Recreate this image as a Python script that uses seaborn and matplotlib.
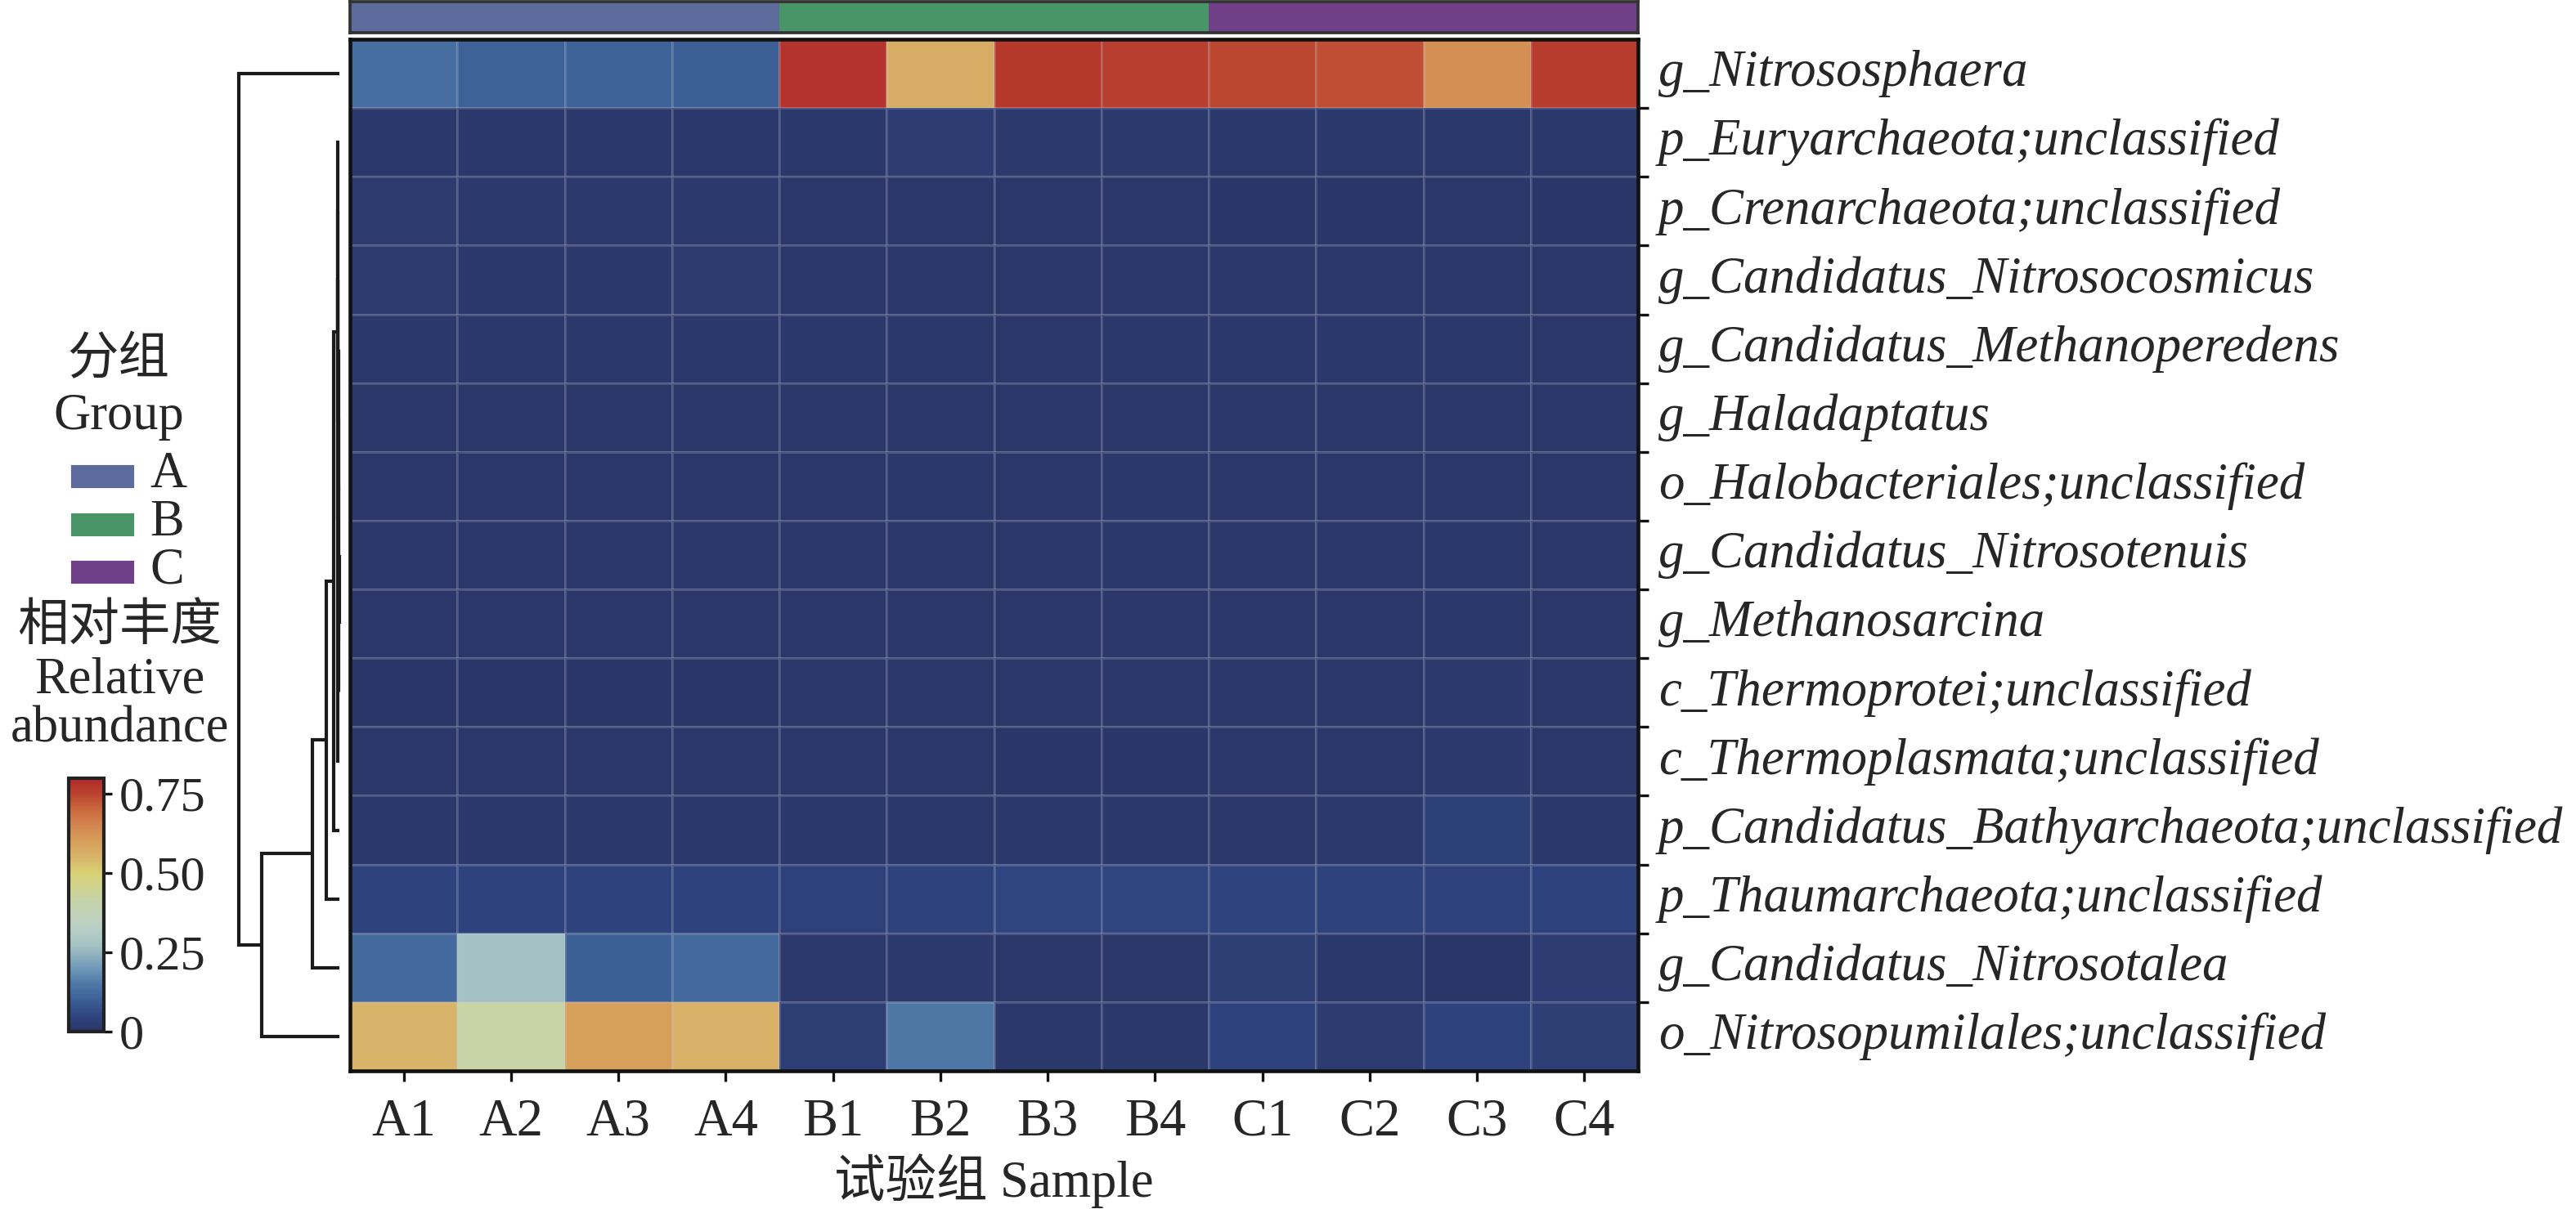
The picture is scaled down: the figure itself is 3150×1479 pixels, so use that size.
import numpy as np
import pandas as pd
import matplotlib
matplotlib.use("Agg")
import matplotlib.pyplot as plt
import seaborn as sns
from matplotlib.colors import LinearSegmentedColormap, ListedColormap
from matplotlib.patches import Rectangle

sns.set_theme(style="white")
FONT = ["Liberation Serif", "Noto Sans CJK SC", "DejaVu Sans"]
plt.rcParams["font.family"] = FONT

# ---------------- data ----------------
samples = ["A1", "A2", "A3", "A4", "B1", "B2", "B3", "B4", "C1", "C2", "C3", "C4"]
groups = ["A", "A", "A", "A", "B", "B", "B", "B", "C", "C", "C", "C"]
group_names = ["A", "B", "C"]
group_colors = ["#5d6b9d", "#4a9567", "#6f4088"]

taxa = [
    "g_Nitrososphaera",
    "p_Euryarchaeota;unclassified",
    "p_Crenarchaeota;unclassified",
    "g_Candidatus_Nitrosocosmicus",
    "g_Candidatus_Methanoperedens",
    "g_Haladaptatus",
    "o_Halobacteriales;unclassified",
    "g_Candidatus_Nitrosotenuis",
    "g_Methanosarcina",
    "c_Thermoprotei;unclassified",
    "c_Thermoplasmata;unclassified",
    "p_Candidatus_Bathyarchaeota;unclassified",
    "p_Thaumarchaeota;unclassified",
    "g_Candidatus_Nitrosotalea",
    "o_Nitrosopumilales;unclassified",
]

abund = [
    [0.130, 0.105, 0.105, 0.100, 0.780, 0.570, 0.770, 0.760, 0.745, 0.735, 0.630, 0.765],
    [0.012, 0.012, 0.012, 0.012, 0.012, 0.025, 0.015, 0.015, 0.012, 0.012, 0.012, 0.012],
    [0.016, 0.015, 0.015, 0.015, 0.008, 0.008, 0.008, 0.008, 0.006, 0.006, 0.008, 0.006],
    [0.018, 0.010, 0.010, 0.016, 0.008, 0.008, 0.008, 0.008, 0.008, 0.008, 0.008, 0.008],
    [0.010, 0.010, 0.010, 0.010, 0.010, 0.012, 0.008, 0.010, 0.010, 0.010, 0.012, 0.008],
    [0.008, 0.008, 0.008, 0.008, 0.008, 0.008, 0.008, 0.008, 0.008, 0.008, 0.008, 0.008],
    [0.008, 0.008, 0.008, 0.008, 0.008, 0.012, 0.008, 0.012, 0.008, 0.008, 0.008, 0.008],
    [0.008, 0.008, 0.008, 0.008, 0.008, 0.008, 0.008, 0.010, 0.008, 0.008, 0.012, 0.008],
    [0.008, 0.008, 0.008, 0.008, 0.008, 0.008, 0.008, 0.008, 0.008, 0.008, 0.012, 0.008],
    [0.006, 0.006, 0.006, 0.006, 0.008, 0.008, 0.008, 0.008, 0.008, 0.008, 0.014, 0.008],
    [0.008, 0.008, 0.008, 0.008, 0.008, 0.008, 0.005, 0.005, 0.008, 0.008, 0.014, 0.008],
    [0.010, 0.010, 0.010, 0.010, 0.010, 0.012, 0.010, 0.010, 0.008, 0.015, 0.035, 0.010],
    [0.045, 0.045, 0.045, 0.045, 0.040, 0.042, 0.050, 0.050, 0.048, 0.045, 0.040, 0.045],
    [0.120, 0.270, 0.100, 0.120, 0.015, 0.015, 0.008, 0.008, 0.030, 0.010, 0.005, 0.025],
    [0.550, 0.420, 0.600, 0.560, 0.030, 0.150, 0.012, 0.012, 0.045, 0.020, 0.045, 0.030],
]

# row dendrogram linkage: (child_a, child_b, height); leaves 0..14, clusters from 15
linkage = [
    (7, 8, 0.004),
    (15, 9, 0.006),
    (6, 16, 0.008),
    (5, 17, 0.010),
    (4, 18, 0.012),
    (3, 19, 0.013),
    (2, 20, 0.014),
    (21, 10, 0.016),
    (1, 22, 0.020),
    (23, 11, 0.057),
    (24, 12, 0.130),
    (25, 13, 0.270),
    (26, 14, 0.770),
    (0, 27, 1.000),
]

cbar_ticks = [0, 0.25, 0.5, 0.75]
cbar_ticklabels = ["0", "0.25", "0.50", "0.75"]

# ---------------- figure ----------------
W, H = 3150, 1479
DPI = 300
fig = plt.figure(figsize=(W / DPI, H / DPI), dpi=DPI)


def px_axes(x0, y0, x1, y1):
    return fig.add_axes([x0 / W, 1 - y1 / H, (x1 - x0) / W, (y1 - y0) / H])


ax = px_axes(428, 48, 2003, 1310)
gax = px_axes(428, 2, 2003, 40)
dax = px_axes(292, 48, 415, 1310)
cax = px_axes(84, 952, 127, 1262)

cmap = LinearSegmentedColormap.from_list(
    "abund",
    [
        (0.0 / 0.8, "#2a3566"),
        (0.05 / 0.8, "#2f4580"),
        (0.10 / 0.8, "#3c6096"),
        (0.15 / 0.8, "#4f78a7"),
        (0.20 / 0.8, "#7099b8"),
        (0.27 / 0.8, "#a4c2c4"),
        (0.33 / 0.8, "#b9d0c6"),
        (0.42 / 0.8, "#c8d3a6"),
        (0.50 / 0.8, "#d8d274"),
        (0.55 / 0.8, "#d8b56b"),
        (0.60 / 0.8, "#d69f5a"),
        (0.65 / 0.8, "#d38750"),
        (0.70 / 0.8, "#cb6a3e"),
        (0.75 / 0.8, "#bb4530"),
        (0.80 / 0.8, "#b0282a"),
    ],
)

df = pd.DataFrame(abund, index=taxa, columns=samples)
sns.heatmap(
    df, ax=ax, cmap=cmap, vmin=0, vmax=0.8, cbar_ax=cax,
    linewidths=0.35, linecolor=(0.8, 0.8, 0.85, 0.2),
    xticklabels=samples, yticklabels=taxa,
)

# heatmap frame
for s in ax.spines.values():
    s.set_visible(True)
    s.set_color("#111111")
    s.set_linewidth(1.1)

# x ticks
ax.set_xticks(np.arange(len(samples)) + 0.5)
ax.set_xticklabels(samples, rotation=0, fontsize=15.5, family=FONT)
ax.tick_params(axis="x", bottom=True, length=3.0, width=0.8, color="#111111",
               direction="out", pad=5)
ax.set_xlabel("试验组 Sample", fontsize=15, family=FONT, labelpad=2)

# y ticks on right: labels at centers, marks at boundaries
ax.yaxis.tick_right()
ax.set_yticks(np.arange(len(taxa)) + 0.5)
ax.set_yticklabels(taxa, rotation=0, fontsize=15.1, style="italic", family=FONT,
                   va="center")
ax.tick_params(axis="y", which="major", right=True, left=False, length=0, pad=6)
ax.set_yticks(np.arange(1, len(taxa)), minor=True)
ax.tick_params(axis="y", which="minor", right=True, left=False, length=3.0,
               width=0.8, color="#111111", direction="out")
ax.set_ylabel("")

# group bar
gcodes = pd.DataFrame([[group_names.index(g) for g in groups]], columns=samples)
sns.heatmap(gcodes, ax=gax, cmap=ListedColormap(group_colors), vmin=-0.5, vmax=2.5,
            cbar=False, xticklabels=False, yticklabels=False)
for s in gax.spines.values():
    s.set_visible(True)
    s.set_color("#333333")
    s.set_linewidth(0.9)

# colorbar
cb = ax.collections[0].colorbar
cb.set_ticks(cbar_ticks)
cb.set_ticklabels(cbar_ticklabels)
cax.tick_params(labelsize=14.5, length=2.5, width=0.8, color="#111111", pad=2)
for lab in cax.get_yticklabels():
    lab.set_family(FONT)
cb.outline.set_edgecolor("#222222")
cb.outline.set_linewidth(1.0)

# dendrogram
n = len(taxa)
pos = {i: i + 0.5 for i in range(n)}
hgt = {i: 0.0 for i in range(n)}
for k, (a, b, h) in enumerate(linkage):
    cid = n + k
    ya, yb = pos[a], pos[b]
    xs = [hgt[a], h, h, hgt[b]]
    ys = [ya, ya, yb, yb]
    dax.plot(xs, ys, color="#1a1a1a", lw=1.0, solid_capstyle="butt",
             solid_joinstyle="miter", clip_on=False)
    pos[cid] = (ya + yb) / 2
    hgt[cid] = h
dax.set_xlim(1.0, 0.0)
dax.set_ylim(n, 0)
dax.axis("off")

# legend (left)
def ftxt(x, y, s, size, ha="center"):
    fig.text(x / W, 1 - y / H, s, fontsize=size, ha=ha, va="center", family=FONT)

ftxt(145, 442, "分组", 15)
ftxt(145, 510, "Group", 15)
for i, (gname, gcol) in enumerate(zip(group_names, group_colors)):
    yc = 583 + i * 58.5
    fig.patches.append(Rectangle((89 / W, 1 - (yc + 12) / H), 73 / W, 24 / H,
                                 transform=fig.transFigure, color=gcol))
    ftxt(183, yc - 2, gname, 15, ha="left")
ftxt(146, 768, "相对丰度", 15)
ftxt(146, 833, "Relative", 15)
ftxt(146, 892, "abundance", 15)

fig.savefig("out.png", dpi=DPI)
